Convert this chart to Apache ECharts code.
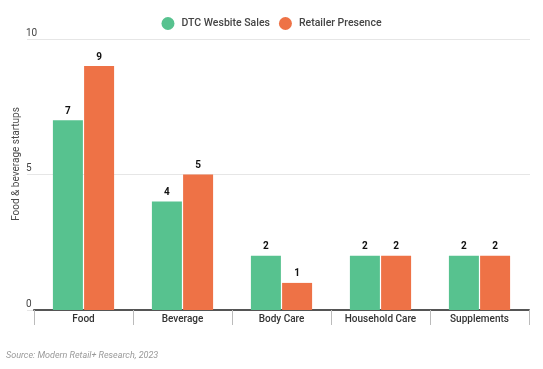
<!DOCTYPE html>
<html><head><meta charset="utf-8">
<script src="https://cdn.jsdelivr.net/npm/echarts@6/dist/echarts.min.js"></script>
<style>html,body{margin:0;padding:0;background:#fff;}#c{width:543px;height:369px;}</style>
</head><body><div id="c"></div>
<script>
const categories = ['Food', 'Beverage', 'Body Care', 'Household Care', 'Supplements'];
const dtcSales = [7, 4, 2, 2, 2];
const retailerPresence = [9, 5, 1, 2, 2];
const yTicks = [0, 5, 10];

const chart = echarts.init(document.getElementById('c'));
const labelStyle = { show: true, position: 'top', distance: 4, color: '#111', fontWeight: 'bold', fontSize: 10, fontFamily: 'Roboto' };
chart.setOption({
  animation: false,
  textStyle: { fontFamily: 'Roboto' },
  legend: {
    top: 12, left: 'center', itemGap: 9,
    icon: 'circle', itemWidth: 13, itemHeight: 13,
    textStyle: { fontSize: 10.5, fontWeight: 500, color: '#444', fontFamily: 'Roboto', padding: [0, 0, 0, 2] },
    data: ['DTC Wesbite Sales', 'Retailer Presence']
  },
  grid: [
    { left: 27, right: 13, top: 39, bottom: 59 },
    { left: 34, right: 14, top: 39, bottom: 59 }
  ],
  xAxis: [
    { gridIndex: 0, type: 'category', data: categories, show: false },
    { gridIndex: 1, type: 'category', data: categories,
      axisLine: { lineStyle: { color: '#555', width: 2 } },
      axisTick: { show: true, length: 15, lineStyle: { color: '#bbb', width: 1 } },
      axisLabel: { color: '#333', fontSize: 10, fontWeight: 500, margin: 4, fontFamily: 'Roboto' } }
  ],
  yAxis: [
    { gridIndex: 0, type: 'value', min: 0, max: 10, interval: 5,
      name: 'Food & beverage startups', nameLocation: 'middle', nameGap: 11, nameRotate: 90, nameMoveOverlap: false,
      nameTextStyle: { fontSize: 10, color: '#4a4a4a', fontFamily: 'Roboto', verticalAlign: 'middle', padding: [0, 0, 0, 21] },
      axisLine: { show: false }, axisTick: { show: false },
      splitLine: { lineStyle: { color: '#e6e6e6' } },
      axisLabel: { inside: true, margin: -1, align: 'left', verticalAlign: 'bottom', padding: [0,0,1,0], color: '#444', fontSize: 10,
        formatter: v => yTicks.includes(v) ? String(v) : '' } },
    { gridIndex: 1, type: 'value', min: 0, max: 10, interval: 5, show: false, splitLine: { show: false } }
  ],
  series: [
    { name: 'DTC Wesbite Sales', type: 'bar', xAxisIndex: 1, yAxisIndex: 1, data: dtcSales,
      barWidth: 30, barGap: '4%', itemStyle: { color: '#57C28F' }, label: labelStyle },
    { name: 'Retailer Presence', type: 'bar', xAxisIndex: 1, yAxisIndex: 1, data: retailerPresence,
      barWidth: 30, barGap: '4%', itemStyle: { color: '#EE7246' }, label: labelStyle }
  ],
  graphic: [
    { type: 'text', left: 6, top: 351, style: { text: 'Source: Modern Retail+ Research, 2023', fontSize: 9, fontStyle: 'italic', fill: '#999', fontFamily: 'Roboto' } }
  ]
});
</script></body></html>
